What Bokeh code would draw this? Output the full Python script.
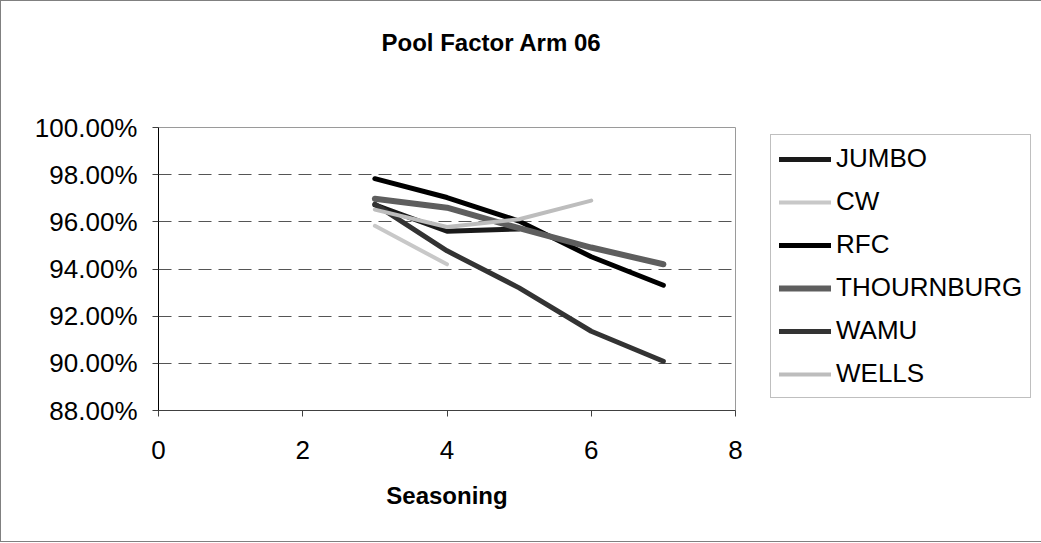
from bokeh.plotting import figure
from bokeh.models import (FixedTicker, NumeralTickFormatter, Legend, LegendItem, Range1d, Title)
from bokeh.embed import file_html
from bokeh.resources import INLINE

# ---- data ----
title_text = "Pool Factor Arm 06"
x_label = "Seasoning"
series_names = ["JUMBO", "CW", "RFC", "THOURNBURG", "WAMU", "WELLS"]
jumbo_x = [3, 4, 5]
jumbo_y = [0.9672, 0.9560, 0.9570]
cw_x = [3, 4]
cw_y = [0.9583, 0.9420]
rfc_x = [3, 4, 5, 6, 7]
rfc_y = [0.9783, 0.9703, 0.9603, 0.9452, 0.9331]
thourn_x = [3, 4, 5, 6, 7]
thourn_y = [0.9698, 0.9660, 0.9573, 0.9491, 0.9420]
wamu_x = [3, 4, 5, 6, 7]
wamu_y = [0.9675, 0.9477, 0.9320, 0.9136, 0.9009]
wells_x = [3, 4, 5, 6]
wells_y = [0.9652, 0.9578, 0.9611, 0.9690]
x_ticks = [0, 2, 4, 6, 8]
y_ticks = [0.88, 0.90, 0.92, 0.94, 0.96, 0.98, 1.00]
grid_ticks = [0.90, 0.92, 0.94, 0.96, 0.98]

FONT = "Liberation Sans"

p = figure(width=1039, height=541, frame_width=577, frame_height=283,
           output_backend="svg", toolbar_location=None,
           x_range=Range1d(0, 8), y_range=Range1d(0.88, 1.00),
           min_border_left=157, min_border_right=304, min_border_top=126, min_border_bottom=131)
p.styles = {"border": "1px solid #808080"}
p.background_fill_color = "white"
p.border_fill_color = "white"
p.outline_line_color = "#9a9a9a"
p.outline_line_width = 1
p.title.text = ""
p.title.standoff = 0

# spacer (nearest to the frame) then the real title above it
p.add_layout(Title(text=" ", text_font_size="1px", standoff=69), "above")
p.add_layout(Title(text=title_text, text_font=FONT, text_font_size="24px",
                   text_font_style="bold", text_color="black", align="left",
                   offset=223, standoff=0), "above")

# axes
for ax in (p.xaxis[0], p.yaxis[0]):
    ax.major_label_text_font = FONT
    ax.major_label_text_font_size = "26px"
    ax.major_label_text_color = "black"
    ax.major_tick_in = 0
    ax.major_tick_out = 6
    ax.minor_tick_in = 0
    ax.minor_tick_out = 0
    ax.major_tick_line_color = "#404040"

p.xaxis.ticker = FixedTicker(ticks=x_ticks)
p.yaxis.ticker = FixedTicker(ticks=y_ticks)
p.yaxis.formatter = NumeralTickFormatter(format="0.00%")
p.yaxis.axis_line_color = "black"
p.xaxis.axis_line_color = "#404040"
p.yaxis.major_label_standoff = 15
p.xaxis.major_label_standoff = 24
p.xaxis.axis_label = x_label
p.xaxis.axis_label_text_font = FONT
p.xaxis.axis_label_text_font_size = "24px"
p.xaxis.axis_label_text_font_style = "bold"
p.xaxis.axis_label_text_color = "black"
p.xaxis.axis_label_standoff = 20

p.xgrid.visible = False
p.ygrid.ticker = FixedTicker(ticks=grid_ticks)
p.ygrid.grid_line_color = "#555555"
p.ygrid.grid_line_dash = "13 7"
p.ygrid.grid_line_width = 1

styles = [
    ("#1a1a1a", 5),
    ("#c8c8c8", 4),
    ("#000000", 5),
    ("#5e5e5e", 6),
    ("#333333", 5),
    ("#bdbdbd", 4),
]
data = [(jumbo_x, jumbo_y), (cw_x, cw_y), (rfc_x, rfc_y),
        (thourn_x, thourn_y), (wamu_x, wamu_y), (wells_x, wells_y)]

items = []
for name, (xs, ys), (col, w) in zip(series_names, data, styles):
    r = p.line(xs, ys, line_color=col, line_width=w, line_cap="round", line_join="round")
    items.append(LegendItem(label=name, renderers=[r]))

legend = Legend(items=items, location=(35, 12))
legend.label_text_font = FONT
legend.label_text_font_size = "26px"
legend.label_text_color = "black"
legend.glyph_width = 52
legend.glyph_height = 30
legend.label_height = 30
legend.label_standoff = 5
legend.spacing = 12
legend.padding = 8
legend.margin = 0
legend.border_line_color = "#808080"
legend.border_line_width = 1
legend.background_fill_color = "white"
legend.background_fill_alpha = 1
p.add_layout(legend, "right")

open("out.html", "w").write(file_html(p, INLINE))
